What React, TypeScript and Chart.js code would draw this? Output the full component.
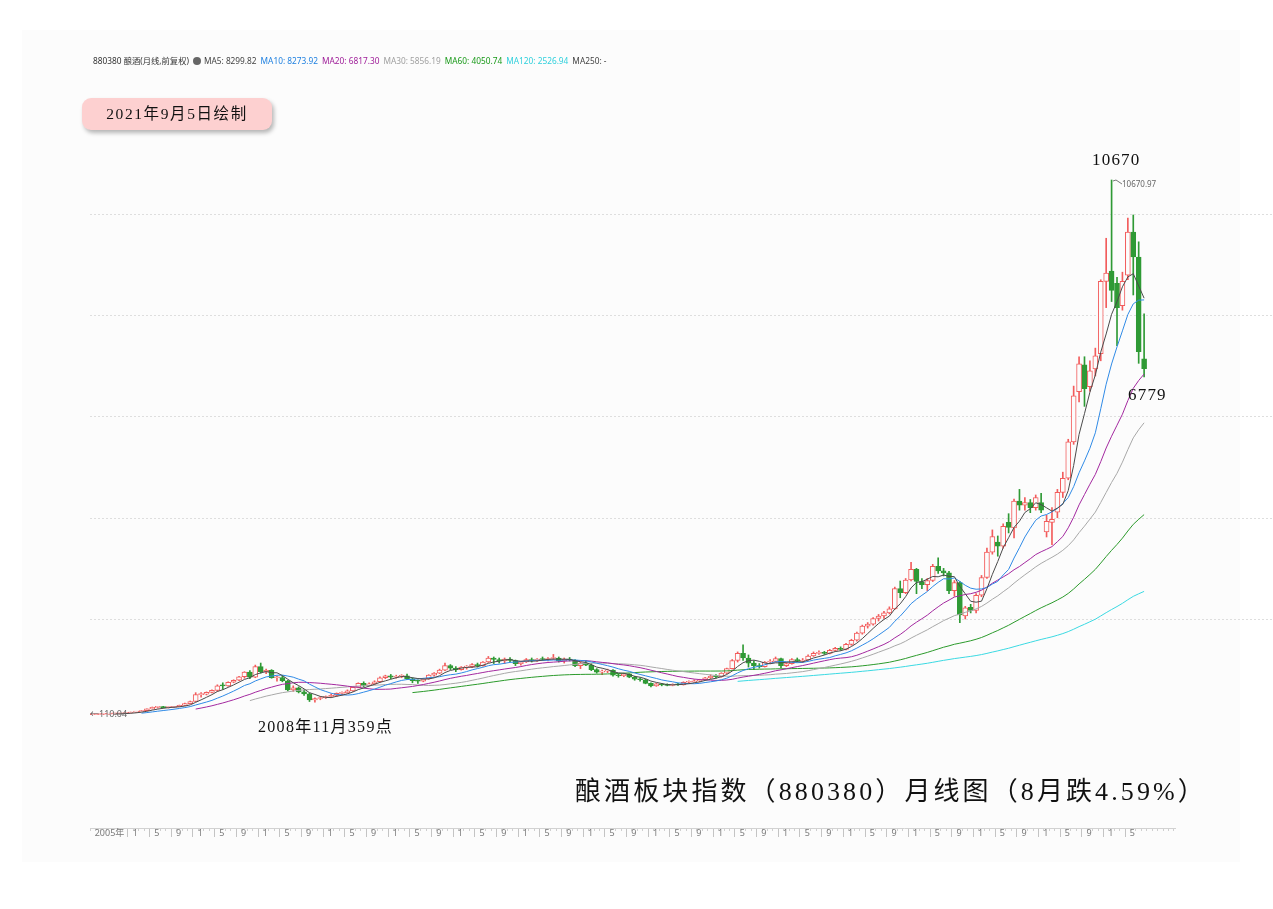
import React, { useEffect, useRef } from "react";
import { Chart, registerables } from "chart.js";
Chart.register(...registerables);

// ---- data: 880380 monthly candles, 2005-06 .. 2021-08 ----
const START_YEAR = 2005;
const START_MONTH = 6;
const firstTickLabel = "2005年";
const labeledMonths = [1, 5, 9];
const gridValues = [2000, 4000, 6000, 8000, 10000];

const opens = [
  111, 114, 118, 121, 125, 128, 134,
  143, 160, 170, 190, 225, 255, 262, 250, 255, 270, 295, 330,
  370, 505, 515, 550, 590, 700, 680, 750, 790, 860, 950, 850,
  1060, 960, 985, 840, 845, 780, 600, 640, 560, 520, 400, 430,
  445, 470, 490, 530, 540, 580, 650, 730, 690, 720, 760, 840,
  880, 850, 870, 880, 820, 780, 770, 820, 890, 930, 990, 1080,
  1030, 1000, 1050, 1060, 1100, 1080, 1150, 1230, 1200, 1170, 1210, 1180,
  1120, 1150, 1200, 1180, 1210, 1200, 1220, 1230, 1170, 1210, 1190, 1080,
  1130, 1090, 1000, 950, 970, 990, 890, 880, 910, 850, 810, 800,
  730, 680, 720, 700, 690, 710, 700, 750, 760, 780, 800, 840,
  870, 860, 930, 1020, 1180, 1320, 1230, 1130, 1080, 1060, 1150, 1160,
  1220, 1080, 1120, 1200, 1170, 1190, 1270, 1320, 1340, 1320, 1380, 1420,
  1400, 1500, 1580, 1720, 1860, 1900, 2010, 2060, 2120, 2200, 2600, 2520,
  2770, 2980, 2740, 2680, 2760, 3040, 2950, 2910, 2560, 2720, 2060, 2230,
  2170, 2470, 2820, 3320, 3520, 3440, 3910, 3800, 4330, 4250, 4300, 4200,
  4300, 3720, 3910, 4110, 4500, 4780, 5500, 6490, 7020, 6590, 6940, 7240,
  8670, 8870, 8630, 8190, 8790, 9640, 9150, 7140,
];
const highs = [
  116, 120, 124, 127, 131, 136, 145,
  162, 175, 195, 228, 262, 270, 275, 262, 275, 300, 340, 380,
  545, 545, 560, 600, 700, 740, 760, 800, 870, 960, 980, 1090,
  1130, 1010, 1000, 870, 880, 790, 680, 660, 600, 540, 445, 470,
  480, 520, 540, 560, 600, 660, 740, 760, 740, 780, 860, 890,
  905, 890, 900, 910, 840, 800, 830, 900, 940, 1010, 1130, 1100,
  1060, 1060, 1080, 1120, 1130, 1160, 1260, 1250, 1230, 1230, 1240, 1190,
  1160, 1220, 1230, 1220, 1250, 1240, 1300, 1250, 1230, 1240, 1200, 1150,
  1180, 1120, 1020, 990, 1010, 1000, 920, 930, 920, 870, 840, 810,
  740, 730, 730, 720, 720, 730, 760, 780, 800, 810, 850, 900,
  900, 940, 1030, 1200, 1350, 1490, 1290, 1180, 1120, 1160, 1200, 1250,
  1230, 1140, 1220, 1230, 1220, 1290, 1350, 1370, 1360, 1400, 1440, 1450,
  1520, 1600, 1740, 1880, 1930, 2030, 2090, 2150, 2240, 2630, 2750, 2800,
  3120, 3000, 2800, 2800, 3080, 3210, 3000, 2940, 2760, 2740, 2250, 2290,
  2500, 2860, 3400, 3760, 3640, 3880, 4080, 4370, 4560, 4400, 4360, 4450,
  4480, 4050, 4200, 4560, 4900, 5550, 6600, 7180, 7180, 7100, 7350, 8700,
  9520, 10670.97, 8750, 8850, 9920, 9980, 9450, 8030,
];
const lows = [
  110.04, 112, 115, 118, 121, 126, 132,
  141, 155, 168, 188, 220, 240, 245, 240, 250, 265, 290, 325,
  365, 455, 500, 540, 570, 610, 670, 740, 780, 830, 820, 840,
  930, 920, 830, 770, 760, 580, 570, 540, 490, 370, 359, 405,
  430, 455, 470, 500, 530, 570, 640, 660, 680, 700, 750, 820,
  820, 830, 840, 800, 740, 730, 760, 810, 870, 920, 980, 1000,
  960, 990, 1010, 1040, 1050, 1070, 1140, 1120, 1130, 1120, 1150, 1080,
  1090, 1140, 1150, 1160, 1180, 1170, 1200, 1150, 1130, 1170, 1060, 1020,
  1080, 980, 930, 900, 940, 870, 850, 860, 840, 790, 770, 720,
  660, 670, 680, 680, 680, 690, 695, 730, 750, 760, 790, 820,
  830, 850, 920, 1010, 1150, 1180, 1050, 1000, 1030, 1050, 1120, 1150,
  1040, 1060, 1110, 1150, 1140, 1180, 1260, 1300, 1300, 1310, 1360, 1380,
  1390, 1480, 1560, 1700, 1820, 1880, 1960, 2010, 2100, 2190, 2420, 2500,
  2750, 2500, 2600, 2560, 2740, 2900, 2850, 2500, 2450, 1930, 2000, 2120,
  2120, 2440, 2800, 3280, 3240, 3400, 3700, 3600, 4150, 4150, 4100, 4150,
  4100, 3620, 3470, 4000, 4400, 4750, 5450, 6290, 6200, 6500, 6800, 7100,
  8150, 8270, 7400, 8100, 8700, 8400, 7050, 6779,
];
const closes = [
  114, 118, 121, 125, 128, 134, 143,
  160, 170, 190, 225, 255, 262, 250, 255, 270, 295, 330, 370,
  505, 515, 550, 590, 680, 680, 750, 790, 860, 950, 850, 1060,
  960, 985, 840, 845, 780, 600, 640, 560, 520, 400, 430, 445,
  470, 490, 530, 540, 580, 650, 730, 690, 720, 760, 840, 880,
  850, 870, 880, 820, 780, 770, 820, 890, 930, 990, 1080, 1030,
  1000, 1050, 1060, 1100, 1080, 1150, 1230, 1200, 1170, 1210, 1180, 1120,
  1150, 1200, 1180, 1210, 1200, 1220, 1230, 1170, 1210, 1190, 1080, 1130,
  1090, 1000, 950, 970, 990, 890, 880, 910, 850, 810, 800, 730,
  680, 720, 700, 690, 710, 700, 750, 760, 780, 800, 840, 870,
  860, 930, 1020, 1180, 1320, 1230, 1130, 1080, 1060, 1150, 1160, 1220,
  1080, 1120, 1200, 1170, 1190, 1270, 1320, 1340, 1320, 1380, 1420, 1400,
  1500, 1580, 1720, 1860, 1900, 2010, 2060, 2120, 2200, 2600, 2520, 2770,
  2980, 2740, 2680, 2760, 3040, 2950, 2910, 2560, 2720, 2080, 2220, 2170,
  2470, 2820, 3320, 3630, 3440, 3830, 3810, 4330, 4250, 4300, 4200, 4400,
  4150, 3930, 3970, 4500, 4780, 5500, 6410, 7040, 6550, 6900, 7200, 8670,
  8830, 8490, 8150, 8670, 9640, 9150, 7280, 6945,
];

const maPeriods = [5, 10, 20, 30, 60, 120];
const maColors = ["#4a4a4a", "#2f8ae6", "#a3289f", "#a8a8a8", "#2b9a2b", "#3ad9e2"];
const legendItems = [
  { text: "MA5: 8299.82", color: "#444444" },
  { text: "MA10: 8273.92", color: "#1f80e0" },
  { text: "MA20: 6817.30", color: "#a0209a" },
  { text: "MA30: 5856.19", color: "#a0a0a0" },
  { text: "MA60: 4050.74", color: "#1a9a1a" },
  { text: "MA120: 2526.94", color: "#30d0dc" },
  { text: "MA250: -", color: "#444444" },
];

const RED = "#f25c5c";
const GREEN = "#2f9a35";
const BG = "#fcfcfc";
const AREA_TOP = 80;
const AREA_BOTTOM = 828;

function movingAverage(period: number) {
  return closes.map((_, i) => {
    if (i < period - 1) return { x: i, y: null };
    let s = 0;
    for (let k = i - period + 1; k <= i; k++) s += closes[k];
    return { x: i, y: s / period };
  });
}

const isUp = (i: number) => closes[i] >= opens[i];

export default function App() {
  const ref = useRef<HTMLCanvasElement>(null);

  useEffect(() => {
    const canvas = ref.current!;
    const gridPlugin = {
      id: "hgrid",
      beforeDatasetsDraw(chart: any) {
        const { ctx, chartArea } = chart;
        const y = chart.scales.y;
        ctx.save();
        ctx.strokeStyle = "#dedede";
        ctx.lineWidth = 1;
        ctx.setLineDash([2, 2]);
        gridValues.forEach((v) => {
          const py = Math.round(y.getPixelForValue(v)) + 0.5;
          ctx.beginPath();
          ctx.moveTo(chartArea.left, py);
          ctx.lineTo(chart.width, py);
          ctx.stroke();
        });
        ctx.restore();
      },
    };

    const lastIndex = closes.length - 1;
    const tickText = (v: number) => {
      const r = Math.round(v);
      if (Math.abs(v - r) > 1e-6) return "";
      if (r === 0) return firstTickLabel;
      if (r > lastIndex) return "";
      const m = ((START_MONTH - 1 + r) % 12) + 1;
      if (r > 4 && labeledMonths.includes(m)) return String(m);
      return "";
    };

    const chart = new Chart(canvas, {
      type: "bar",
      data: {
        datasets: [
          ...maPeriods.map((p, k) => ({
            type: "line" as const,
            label: "MA" + p,
            data: movingAverage(p),
            borderColor: maColors[k],
            borderWidth: 1,
            pointRadius: 0,
            tension: 0,
            order: -1,
          })),
          {
            type: "bar" as const,
            label: "body",
            data: closes.map((c, i) => ({ x: i, y: [Math.min(opens[i], c), Math.max(opens[i], c)] })),
            backgroundColor: (ctx: any) => (isUp(ctx.dataIndex) ? BG : GREEN),
            borderColor: (ctx: any) => (isUp(ctx.dataIndex) ? RED : GREEN),
            borderWidth: 1,
            borderSkipped: false,
            barThickness: 5,
            minBarLength: 1,
            grouped: false,
            order: 0,
          },
          {
            type: "bar" as const,
            label: "wick",
            data: closes.map((c, i) => ({ x: i, y: [lows[i], highs[i]] })),
            backgroundColor: (ctx: any) => (isUp(ctx.dataIndex) ? RED : GREEN),
            borderWidth: 0,
            barThickness: 1,
            grouped: false,
            order: 1,
          },
        ] as any,
      },
      options: {
        responsive: false,
        animation: false,
        events: [],
        layout: { padding: { left: 90, right: 98, top: AREA_TOP, bottom: 70 } },
        plugins: { legend: { display: false }, tooltip: { enabled: false } },
        scales: {
          x: {
            type: "linear",
            min: -0.5,
            max: 199.7,
            offset: false,
            afterFit: (scale: any) => {
              scale.height = 11;
            },
            grid: {
              drawOnChartArea: false,
              drawTicks: true,
              tickLength: 9,
              tickColor: (ctx: any) => (tickText(ctx.tick?.value) && ctx.tick?.value !== 0 ? "#c4c4c4" : "#cfcfcf"),
              tickBorderDash: (ctx: any) => (tickText(ctx.tick?.value) && ctx.tick?.value !== 0 ? [] : [2, 30]),
            } as any,
            border: { color: "#d2d2d2", width: 1 },
            ticks: {
              stepSize: 1,
              autoSkip: false,
              includeBounds: false,
              maxTicksLimit: 1000,
              maxRotation: 0,
              minRotation: 0,
              align: "start",
              padding: -9,
              labelOffset: 2,
              color: "#7a7a7a",
              font: { family: "'Noto Sans', 'Noto Sans CJK SC', sans-serif", size: 9 },
              callback: (v: any) => tickText(Number(v)),
            } as any,
          } as any,
          y: {
            type: "linear",
            display: false,
            min: -2128,
            max: 12646,
          },
        },
      },
      plugins: [gridPlugin],
    });

    // keep the plot area exactly where the reference has it
    const pad: any = (chart.options.layout as any).padding;
    const dB = chart.chartArea.bottom - AREA_BOTTOM;
    const dT = chart.chartArea.top - AREA_TOP;
    if (Math.abs(dB) > 0.2 || Math.abs(dT) > 0.2) {
      pad.bottom += dB;
      pad.top -= dT;
      chart.update();
    }
    return () => chart.destroy();
  }, []);

  const serif = "'Liberation Serif', 'DejaVu Serif', 'Noto Sans CJK SC', serif";
  const sans = "'Noto Sans', 'Noto Sans CJK SC', sans-serif";
  const abs = (s: React.CSSProperties): React.CSSProperties => ({
    position: "absolute",
    whiteSpace: "nowrap",
    lineHeight: 1,
    pointerEvents: "none",
    ...s,
  });

  return (
    <div style={{ position: "fixed", left: 0, top: 0, width: 1273, height: 909, background: "#ffffff", overflow: "hidden" }}>
      <div style={{ position: "absolute", left: 22, top: 30, width: 1218, height: 832, background: BG }} />
      <canvas ref={ref} width={1273} height={909} style={{ position: "absolute", left: 0, top: 0, width: 1273, height: 909 }} />

      <div style={abs({ left: 93, top: 57, fontFamily: sans, fontSize: 8.3, color: "#333" })}>
        <span>880380 酿酒(月线,前复权)</span>
        <span style={{ display: "inline-block", width: 8, height: 8, borderRadius: 4, background: "#666", margin: "0 3px 0 4px", verticalAlign: "-1px" }} />
        {legendItems.map((it) => (
          <span key={it.text} style={{ color: it.color, marginRight: 4 }}>{it.text}</span>
        ))}
      </div>

      <div
        style={abs({
          left: 82, top: 98, width: 190, height: 32, borderRadius: 9, background: "#fdd0d0",
          boxShadow: "2px 3px 4px rgba(0,0,0,0.28)", display: "flex", alignItems: "center", justifyContent: "center",
          fontFamily: serif, fontSize: 15.5, color: "#111", letterSpacing: 1.6,
        })}
      >
        2021年9月5日绘制
      </div>

      <div style={abs({ left: 1092, top: 151, fontFamily: serif, fontSize: 17, color: "#111", letterSpacing: 1.2 })}>10670</div>
      <svg style={{ position: "absolute", left: 1110, top: 178, pointerEvents: "none" }} width="14" height="10">
        <polyline points="3,3 6,2 12,6" fill="none" stroke="#777" strokeWidth="1" />
      </svg>
      <div style={abs({ left: 1122, top: 180, fontFamily: sans, fontSize: 8, color: "#666" })}>10670.97</div>
      <div style={abs({ left: 1128, top: 386, fontFamily: serif, fontSize: 17, color: "#111", letterSpacing: 1.2 })}>6779</div>
      <div style={abs({ left: 90, top: 709, fontFamily: sans, fontSize: 9, color: "#666" })}>←110.04</div>
      <div style={abs({ left: 258, top: 719, fontFamily: serif, fontSize: 16, color: "#111", letterSpacing: 1.3 })}>2008年11月359点</div>
      <div style={abs({ left: 575, top: 779, fontFamily: serif, fontSize: 26, color: "#111", letterSpacing: 3.1 })}>
        酿酒板块指数（880380）月线图（8月跌4.59%）
      </div>
    </div>
  );
}
